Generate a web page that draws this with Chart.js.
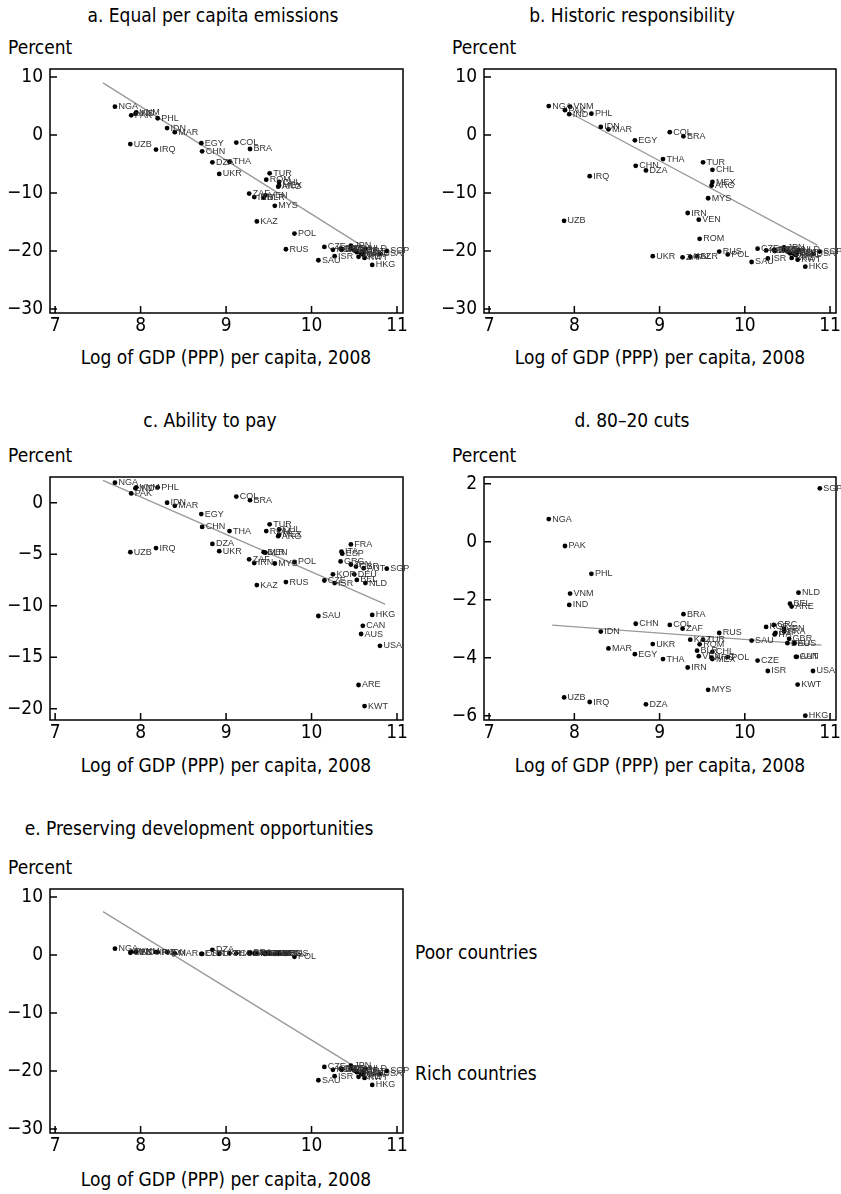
<!DOCTYPE html>
<html>
<head>
<meta charset="utf-8">
<script src="https://cdn.jsdelivr.net/npm/chart.js@4.4.1/dist/chart.umd.min.js"></script>
<style>
  body { margin: 0; background: #fff; width: 841px; height: 1194px; position: relative; overflow: hidden; }
  .t { position: absolute; font-family: 'Liberation Sans Narrow', 'DejaVu Sans Condensed', sans-serif; font-size: 19px; color: #000; white-space: nowrap; transform: translateY(-50%); }
  .c { transform: translate(-50%, -50%); }
  canvas { position: absolute; }
</style>
</head>
<body>
<div class="t c" style="left:213px;top:15px">a. Equal per capita emissions</div>
<div class="t" style="left:8px;top:47px">Percent</div>
<div class="t c" style="left:226px;top:357px">Log of GDP (PPP) per capita, 2008</div>

<div class="t c" style="left:632px;top:15px">b. Historic responsibility</div>
<div class="t" style="left:452px;top:47px">Percent</div>
<div class="t c" style="left:660px;top:357px">Log of GDP (PPP) per capita, 2008</div>

<div class="t c" style="left:210px;top:420px">c. Ability to pay</div>
<div class="t" style="left:8px;top:455px">Percent</div>
<div class="t c" style="left:226px;top:765px">Log of GDP (PPP) per capita, 2008</div>

<div class="t c" style="left:632px;top:420px">d. 80–20 cuts</div>
<div class="t" style="left:452px;top:455px">Percent</div>
<div class="t c" style="left:660px;top:765px">Log of GDP (PPP) per capita, 2008</div>

<div class="t c" style="left:199px;top:828px">e. Preserving development opportunities</div>
<div class="t" style="left:8px;top:867px">Percent</div>
<div class="t c" style="left:226px;top:1179px">Log of GDP (PPP) per capita, 2008</div>
<div class="t" style="left:415px;top:952px">Poor countries</div>
<div class="t" style="left:415px;top:1073px">Rich countries</div>

<canvas id="chartA" width="420" height="285" style="left:0px;top:60px"></canvas>
<canvas id="chartB" width="407" height="285" style="left:434px;top:60px"></canvas>
<canvas id="chartC" width="420" height="282" style="left:0px;top:470px"></canvas>
<canvas id="chartD" width="407" height="282" style="left:434px;top:470px"></canvas>
<canvas id="chartE" width="420" height="285" style="left:0px;top:880px"></canvas>

<script>
// countries and log GDP (PPP) per capita 2008
const countries = ["NGA","PAK","UZB","VNM","IND","PHL","IRQ","IDN","MAR","EGY",
  "CHN","DZA","UKR","THA","COL","ZAF","BRA","IRN","KAZ","BLR",
  "VEN","ROM","TUR","MYS","ARG","MEX","CHL","RUS","POL","SAU",
  "CZE","KOR","ISR","GRC","ITA","ESP","FRA","JPN","DEU","GBR",
  "BEL","ARE","AUS","CAN","AUT","KWT","NLD","HKG","USA","SGP"];
const logGdp = [7.70,7.89,7.88,7.95,7.94,8.20,8.18,8.31,8.40,8.71,
  8.72,8.84,8.92,9.04,9.12,9.27,9.28,9.33,9.36,9.44,
  9.46,9.47,9.51,9.57,9.61,9.62,9.62,9.70,9.80,10.08,
  10.15,10.25,10.27,10.34,10.35,10.36,10.46,10.46,10.50,10.52,
  10.53,10.55,10.58,10.60,10.61,10.62,10.63,10.71,10.80,10.88];

// a. equal per capita emissions
const valuesA = [4.9,3.4,-1.55,3.9,3.7,2.9,-2.5,1.2,0.5,-1.4,
  -2.8,-4.7,-6.7,-4.6,-1.3,-10.1,-2.4,-10.7,-14.9,-10.8,
  -10.4,-7.7,-6.6,-12.2,-8.9,-8.7,-8.1,-19.7,-17.0,-21.6,
  -19.3,-19.8,-20.9,-19.6,-19.8,-19.7,-19.6,-19.1,-19.9,-20.0,
  -20.2,-21.0,-20.4,-20.6,-20.1,-21.2,-19.6,-22.4,-20.5,-20.0];
// b. historic responsibility
const valuesB = [5.0,4.3,-14.8,4.9,3.6,3.7,-7.1,1.4,1.0,-0.9,
  -5.3,-6.1,-20.9,-4.15,0.5,-21.1,-0.2,-13.45,-21.0,-20.9,
  -14.6,-17.9,-4.7,-10.9,-8.7,-8.1,-6.0,-20.1,-20.6,-21.9,
  -19.6,-19.9,-21.3,-19.8,-20.0,-19.9,-19.8,-19.4,-20.1,-20.2,
  -20.4,-21.2,-20.5,-20.7,-20.2,-21.5,-19.8,-22.7,-20.5,-20.1];
// c. ability to pay
const valuesC = [1.95,0.9,-4.8,1.5,1.4,1.5,-4.4,0.0,-0.3,-1.1,
  -2.35,-4.0,-4.7,-2.75,0.6,-5.5,0.25,-5.85,-8.0,-4.8,
  -4.85,-2.75,-2.1,-5.9,-3.25,-3.1,-2.6,-7.7,-5.75,-11.0,
  -7.55,-6.95,-7.8,-5.7,-4.75,-4.95,-4.05,-6.0,-6.95,-6.2,
  -7.5,-17.7,-12.75,-11.95,-6.35,-19.75,-7.8,-10.9,-13.9,-6.4];
// d. 80-20 cuts
const valuesD = [0.78,-0.15,-5.37,-1.79,-2.18,-1.11,-5.53,-3.1,-3.68,-3.88,
  -2.83,-5.61,-3.53,-4.05,-2.87,-3.0,-2.5,-4.34,-3.38,-3.76,
  -3.95,-3.54,-3.38,-5.11,-4.0,-4.05,-3.8,-3.15,-3.98,-3.41,
  -4.1,-2.94,-4.46,-2.87,-3.2,-3.15,-3.1,-3.0,-3.5,-3.35,
  -2.14,-2.24,-3.5,-3.97,-3.97,-4.93,-1.76,-6.0,-4.46,1.84];
// e. preserving development opportunities
const valuesE = [1.1,0.6,0.4,0.6,0.5,0.5,0.5,0.5,0.3,0.2,
  0.2,0.9,0.2,0.3,0.3,0.3,0.4,0.3,0.3,0.3,
  0.2,0.3,0.3,0.2,0.2,0.3,0.3,0.2,-0.3,-21.6,
  -19.3,-19.8,-20.9,-19.6,-19.8,-19.7,-19.6,-19.1,-19.9,-20.0,
  -20.2,-21.0,-20.4,-20.6,-20.1,-21.2,-19.6,-22.4,-20.5,-20.0];

// fitted lines (end points)
const trendXA = [7.56, 10.6],  trendYA = [9.0, -19.2];
const trendXB = [7.95, 10.85], trendYB = [3.8, -19.0];
const trendXC = [7.56, 10.86], trendYC = [2.18, -9.85];
const trendXD = [7.74, 10.9],  trendYD = [-2.88, -3.57];
const trendXE = [7.56, 10.5],  trendYE = [7.5, -19.2];

const xTicks = [7, 8, 9, 10, 11];
const yTicksAB = [10, 0, -10, -20, -30];
const yTicksC = [0, -5, -10, -15, -20];
const yTicksD = [2, 0, -2, -4, -6];

const FONT = "'Liberation Sans Narrow', 'DejaVu Sans Condensed', sans-serif";

function fmt(v){
    return v < 0 ? "\u2212" + Math.abs(v) : String(v);
}

// no extra room for half labels, the chart area is set by the padding only
function noPad(s){
    s.paddingTop = 0;
    s.paddingBottom = 0;
    s.paddingLeft = 0;
    s.paddingRight = 0;
}

// labels next to each dot, inward tick marks and the frame
const decor = {
    id: "decor",
    afterDatasetsDraw(chart){
        const ctx = chart.ctx;
        const meta = chart.getDatasetMeta(0);
        ctx.save();
        ctx.font = "9px 'Liberation Sans', Arial, sans-serif";
        ctx.fillStyle = "#333";
        ctx.textBaseline = "middle";
        meta.data.forEach((pt, i) => {
            ctx.fillText(countries[i], pt.x + 3.5, pt.y);
        });
        ctx.restore();
    },
    afterDraw(chart){
        const ctx = chart.ctx;
        const a = chart.chartArea;
        const xs = chart.scales.x, ys = chart.scales.y;
        ctx.save();
        ctx.strokeStyle = "#000";
        ctx.lineWidth = 1.5;
        ctx.strokeRect(a.left, a.top, a.right - a.left, a.bottom - a.top);
        ctx.beginPath();
        xs.ticks.forEach(t => {
            let px = xs.getPixelForValue(t.value);
            ctx.moveTo(px, a.bottom);
            ctx.lineTo(px, a.bottom - 7);
        });
        ys.ticks.forEach(t => {
            let py = ys.getPixelForValue(t.value);
            ctx.moveTo(a.left, py);
            ctx.lineTo(a.left + 7, py);
        });
        ctx.stroke();
        ctx.restore();
    }
};

function makePanel(id, values, tx, ty, yMin, yMax, yTicks, padTop, padRight){
    const pts = logGdp.map((x, i) => ({x: x, y: values[i]}));
    const line = tx.map((x, i) => ({x: x, y: ty[i]}));
    return new Chart(document.getElementById(id), {
        type: "scatter",
        data: {
            datasets: [{
                data: pts,
                backgroundColor: "#000",
                borderColor: "#000",
                pointRadius: 2.4,
                pointBorderWidth: 0
            }, {
                type: "line",
                data: line,
                borderColor: "#999",
                borderWidth: 1.3,
                pointRadius: 0,
                fill: false
            }]
        },
        options: {
            responsive: false,
            animation: false,
            layout: { padding: { top: padTop, right: padRight, left: 0, bottom: 0 } },
            plugins: { legend: { display: false }, tooltip: { enabled: false } },
            scales: {
                x: {
                    type: "linear", min: 6.94, max: 11.07,
                    afterBuildTicks: s => { s.ticks = xTicks.map(v => ({value: v})); },
                    afterFit: s => { s.height = 32; noPad(s); },
                    grid: { display: false, drawTicks: false },
                    border: { display: false },
                    ticks: { padding: 2, color: "#000", font: { family: FONT, size: 19 }, callback: v => fmt(v) }
                },
                y: {
                    type: "linear", min: yMin, max: yMax,
                    afterBuildTicks: s => { s.ticks = yTicks.map(v => ({value: v})); },
                    afterFit: s => { s.width = 50; noPad(s); },
                    grid: { display: false, drawTicks: false },
                    border: { display: false },
                    ticks: { padding: 7, color: "#000", font: { family: FONT, size: 19 }, callback: v => fmt(v) }
                }
            }
        },
        plugins: [decor]
    });
}

makePanel("chartA", valuesA, trendXA, trendYA, -30.7, 11.4, yTicksAB, 9, 17);
makePanel("chartB", valuesB, trendXB, trendYB, -30.7, 11.4, yTicksAB, 9, 5);
makePanel("chartC", valuesC, trendXC, trendYC, -21.1, 2.5, yTicksC, 7, 17);
makePanel("chartD", valuesD, trendXD, trendYD, -6.15, 2.23, yTicksD, 7, 5);
makePanel("chartE", valuesE, trendXE, trendYE, -30.7, 11.4, yTicksAB, 9, 17);
</script>
</body>
</html>
